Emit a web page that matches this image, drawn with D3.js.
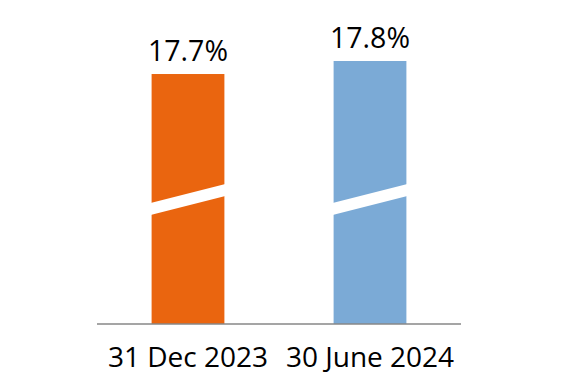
<!DOCTYPE html>
<html lang="en">
<head>
  <meta charset="utf-8">
  <title>Ratio comparison</title>
  <script src="https://d3js.org/d3.v7.min.js"></script>
  <style>
    body {
      margin: 0;
      background: #fff;
    }
    svg {
      display: block;
      font-family: "Open Sans", sans-serif;
    }
  </style>
</head>
<body>
  <svg id="chart"></svg>

  <script>
    const categories = ["31 Dec 2023", "30 June 2024"];
    const values = [17.7, 17.8];
    const valueLabels = ["17.7%", "17.8%"];
    const colors = ["#EA650F", "#7BAAD6"];

    const width = 561, height = 386;
    const axisY = 324;

    const svg = d3.select("#chart")
      .attr("width", width)
      .attr("height", height);

    const x = d3.scaleBand()
      .domain(categories)
      .range([97, 461])
      .paddingInner(0.6)
      .paddingOuter(0.3);

    // truncated axis (chart has a break drawn on the bars)
    const y = d3.scaleLinear()
      .domain([15.78, 17.8])
      .range([axisY, 61]);

    const bars = svg.selectAll("g.bar")
      .data(categories)
      .join("g")
      .attr("class", "bar");

    bars.append("rect")
      .attr("x", d => x(d))
      .attr("y", (d, i) => y(values[i]))
      .attr("width", x.bandwidth())
      .attr("height", (d, i) => axisY - y(values[i]))
      .attr("fill", (d, i) => colors[i]);

    // slanted white break across each bar
    bars.append("polygon")
      .attr("points", d => {
        const x0 = x(d) - 1, x1 = x(d) + x.bandwidth() + 1;
        return [[x0, 203], [x1, 184], [x1, 196], [x0, 215]].map(p => p.join(",")).join(" ");
      })
      .attr("fill", "#fff");

    bars.append("text")
      .attr("x", d => x(d) + x.bandwidth() / 2)
      .attr("y", (d, i) => y(values[i]) - 13.5)
      .attr("text-anchor", "middle")
      .attr("font-size", 28.5)
      .attr("fill", "#000")
      .text((d, i) => valueLabels[i]);

    const xAxis = svg.append("g")
      .attr("transform", `translate(0,${axisY})`)
      .call(d3.axisBottom(x).tickSize(0).tickPadding(0).tickSizeOuter(0));

    xAxis.select(".domain")
      .attr("stroke", "#878787")
      .attr("stroke-width", 1.5)
      .attr("d", `M97,0H461`);

    xAxis.selectAll(".tick text")
      .attr("y", 42.8)
      .attr("dy", null)
      .attr("font-size", 28)
      .attr("font-family", "Open Sans, sans-serif")
      .attr("fill", "#000");
  </script>
</body>
</html>
